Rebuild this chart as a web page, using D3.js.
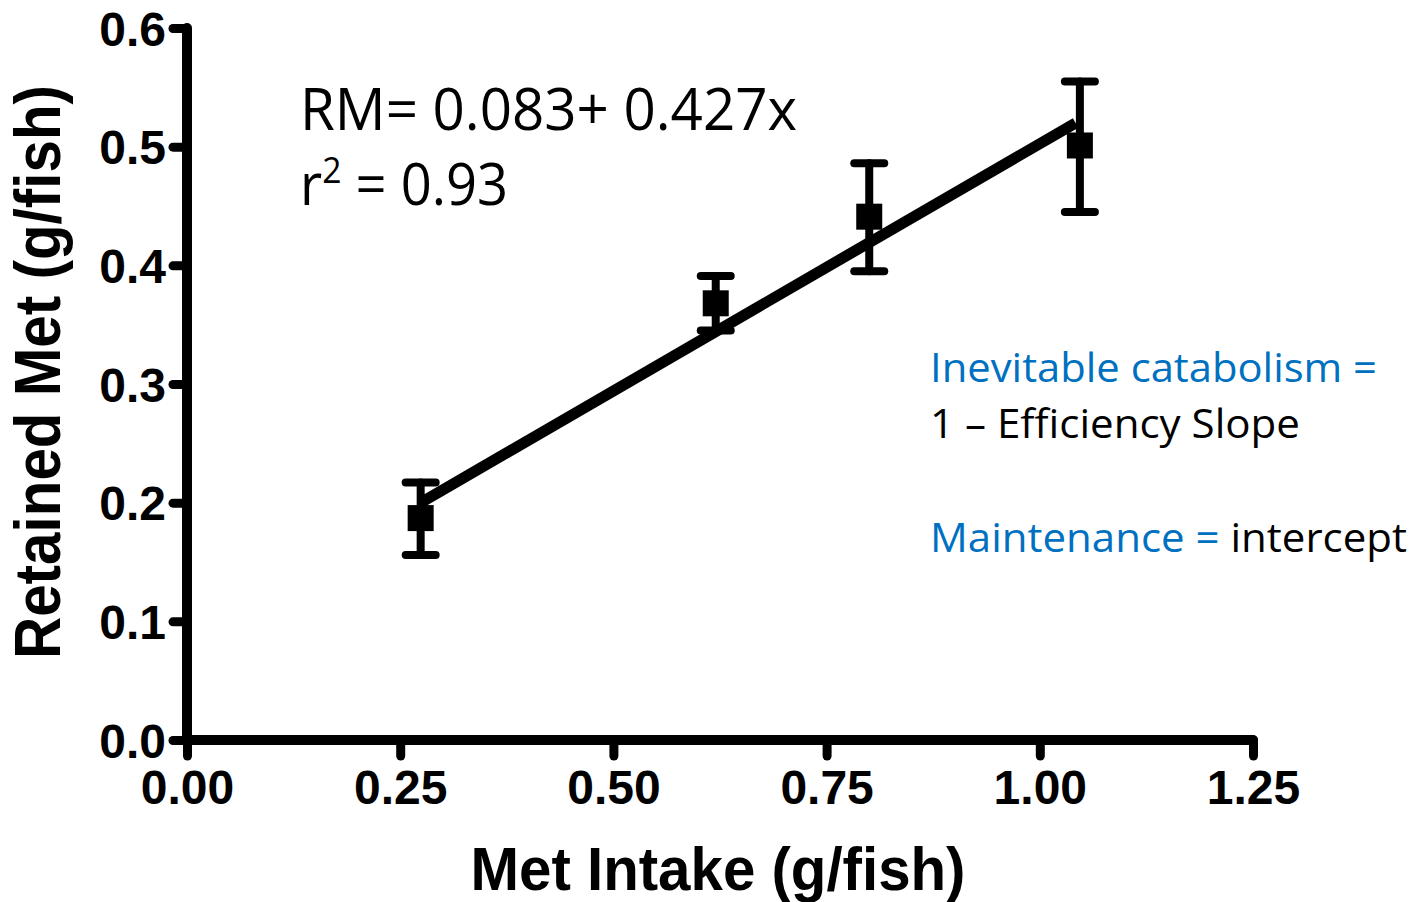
<!DOCTYPE html>
<html>
<head>
<meta charset="utf-8">
<script src="https://cdn.jsdelivr.net/npm/d3@7"></script>
<style>
  body { margin: 0; background: #fff; }
  .tick text { font-family: "Liberation Sans", Arial, sans-serif; font-weight: bold; font-size: 48px; fill: #000; }
  .note { font-family: "Open Sans", "Lato", sans-serif; }
</style>
</head>
<body>
<div id="chart"></div>
<script>
// data
const intake   = [0.274, 0.620, 0.800, 1.047];
const retained = [0.187, 0.368, 0.441, 0.501];
const errLow   = [0.156, 0.345, 0.395, 0.445];
const errHigh  = [0.217, 0.391, 0.486, 0.555];
const fitX = [0.274, 1.042];
const fitY = [0.200, 0.520];
const xTicks = [0, 0.25, 0.5, 0.75, 1.0, 1.25];
const yTicks = [0, 0.1, 0.2, 0.3, 0.4, 0.5, 0.6];

const W = 1422, H = 902;
const svg = d3.select("#chart").append("svg").attr("width", W).attr("height", H);

const x = d3.scaleLinear().domain([0, 1.25]).range([187, 1253]);
const y = d3.scaleLinear().domain([0, 0.6]).range([740, 28]);

// --- axes ---
const xAxis = svg.append("g").attr("transform", "translate(0,740)")
    .call(d3.axisBottom(x).tickValues(xTicks).tickFormat(d3.format(".2f")).tickSize(16).tickPadding(14));
const yAxis = svg.append("g").attr("transform", "translate(187,0)")
    .call(d3.axisLeft(y).tickValues(yTicks).tickFormat(d3.format(".1f")).tickSize(14).tickPadding(7));

[xAxis, yAxis].forEach(g => {
    g.select(".domain").attr("stroke", "#000").attr("stroke-width", 10).attr("stroke-linecap", "round");
    g.selectAll(".tick line").attr("stroke", "#000").attr("stroke-width", 9).attr("stroke-linecap", "round");
});
xAxis.select(".domain").attr("d", `M${x(0)},0H${x(1.25)}`);
yAxis.select(".domain").attr("d", `M0,${y(0.6)}V${y(0)}`);
yAxis.selectAll(".tick text").attr("dy", "0.36em");

// --- regression line ---
const line = d3.line().x(d => x(d[0])).y(d => y(d[1]));
svg.append("path").datum(d3.zip(fitX, fitY)).attr("d", line)
    .attr("stroke", "#000").attr("stroke-width", 11).attr("fill", "none");

// --- error bars + markers ---
const pts = intake.map((v, i) => ({x: v, y: retained[i], lo: errLow[i], hi: errHigh[i]}));
const bars = svg.append("g").attr("stroke", "#000").attr("stroke-width", 8).attr("stroke-linecap", "round");
bars.selectAll(".v").data(pts).enter().append("line")
    .attr("x1", d => x(d.x)).attr("x2", d => x(d.x)).attr("y1", d => y(d.lo)).attr("y2", d => y(d.hi));
bars.selectAll(".cl").data(pts).enter().append("line")
    .attr("x1", d => x(d.x) - 15).attr("x2", d => x(d.x) + 15).attr("y1", d => y(d.lo)).attr("y2", d => y(d.lo));
bars.selectAll(".ch").data(pts).enter().append("line")
    .attr("x1", d => x(d.x) - 15).attr("x2", d => x(d.x) + 15).attr("y1", d => y(d.hi)).attr("y2", d => y(d.hi));
svg.selectAll(".pt").data(pts).enter().append("rect")
    .attr("x", d => x(d.x) - 13).attr("y", d => y(d.y) - 13).attr("width", 26).attr("height", 26).attr("fill", "#000");

// --- axis titles ---
svg.append("text").attr("x", 718).attr("y", 890).attr("text-anchor", "middle")
    .attr("font-family", "Liberation Sans, Arial, sans-serif").attr("font-weight", "bold").attr("font-size", 62)
    .attr("textLength", 495).attr("lengthAdjust", "spacingAndGlyphs")
    .text("Met Intake (g/fish)");
svg.append("text").attr("transform", "translate(60,372) rotate(-90)").attr("text-anchor", "middle")
    .attr("font-family", "Liberation Sans, Arial, sans-serif").attr("font-weight", "bold").attr("font-size", 64)
    .attr("textLength", 574).attr("lengthAdjust", "spacingAndGlyphs")
    .text("Retained Met (g/fish)");

// --- annotations ---
svg.append("text").attr("class", "note").attr("x", 300).attr("y", 130).attr("font-size", 58)
    .attr("textLength", 497).attr("lengthAdjust", "spacingAndGlyphs").text("RM= 0.083+ 0.427x");
const r2 = svg.append("text").attr("class", "note").attr("x", 300).attr("y", 205).attr("font-size", 58)
    .attr("textLength", 208).attr("lengthAdjust", "spacingAndGlyphs");
r2.append("tspan").text("r");
r2.append("tspan").attr("font-size", 36).attr("dy", -22).text("2");
r2.append("tspan").attr("dy", 22).text(" = 0.93");

const blue = "#0070C0";
svg.append("text").attr("class", "note").attr("x", 930).attr("y", 382).attr("font-size", 40).attr("fill", blue)
    .attr("textLength", 447).attr("lengthAdjust", "spacingAndGlyphs").text("Inevitable catabolism =");
svg.append("text").attr("class", "note").attr("x", 930).attr("y", 438).attr("font-size", 40).attr("fill", "#000")
    .attr("textLength", 370).attr("lengthAdjust", "spacingAndGlyphs").text("1 – Efficiency Slope");
const mt = svg.append("text").attr("class", "note").attr("x", 930).attr("y", 552).attr("font-size", 40)
    .attr("textLength", 477).attr("lengthAdjust", "spacingAndGlyphs");
mt.append("tspan").attr("fill", blue).text("Maintenance = ");
mt.append("tspan").attr("fill", "#000").text("intercept");
</script>
</body>
</html>
